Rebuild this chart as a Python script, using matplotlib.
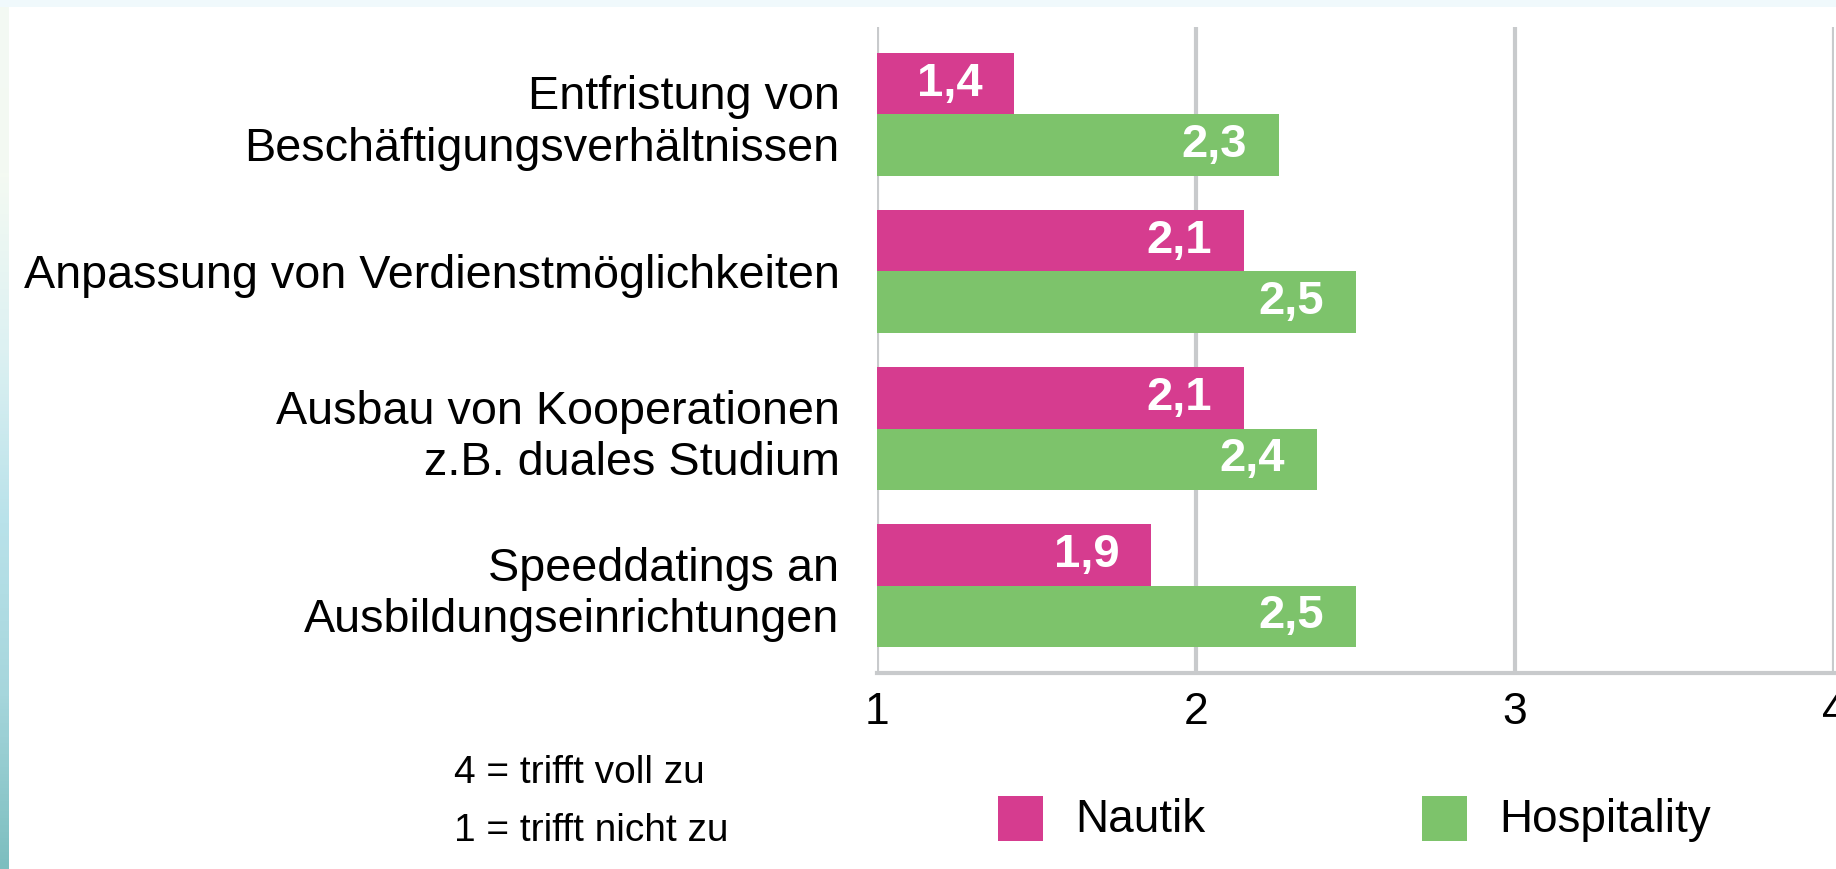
import numpy as np
import matplotlib
matplotlib.use('Agg')
import matplotlib.pyplot as plt
from matplotlib.patches import Rectangle
from matplotlib.colors import LinearSegmentedColormap

# data (bar lengths; labels shown rounded)
categories = ['Entfristung von\nBeschäftigungsverhältnissen',
              'Anpassung von Verdienstmöglichkeiten',
              'Ausbau von Kooperationen\nz.B. duales Studium',
              'Speeddatings an\nAusbildungseinrichtungen']
nautik = [1.43, 2.15, 2.15, 1.86]
hospitality = [2.26, 2.50, 2.38, 2.50]
series_names = ['Nautik', 'Hospitality']
x_ticks = [1, 2, 3, 4]

pink = '#D63C8F'
green = '#7DC36B'
grid_col = '#C8CACC'

plt.rcParams['font.family'] = ['Liberation Sans', 'DejaVu Sans']

fig = plt.figure(figsize=(18.36, 8.69), dpi=100)
fig.patch.set_facecolor('white')

# background decoration: light top strip and teal gradient on the left edge
bg = fig.add_axes([0, 0, 1, 1], zorder=-10)
bg.set_xlim(0, 1836)
bg.set_ylim(869, 0)
bg.axis('off')
bg.add_patch(Rectangle((0, 0), 1836, 7, color='#F0F9FC', lw=0))
cmap = LinearSegmentedColormap.from_list('edge', ['#F3F9F4', '#F4FAF2', '#DDF1F2', '#B9E2EA', '#A6D6DC', '#7CBEBF'])
grad = np.linspace(0, 1, 256).reshape(-1, 1)
bg.imshow(grad, cmap=cmap, extent=(0, 9, 869, 0), aspect='auto')

ax = fig.add_axes([877 / 1836, 1 - 673 / 869, (1834 - 877) / 1836, (673 - 27) / 869])
ypos = np.arange(len(categories))
h = 0.392

b1 = ax.barh(ypos - h / 2, [v - 1 for v in nautik], left=1, height=h, color=pink, zorder=3)
b2 = ax.barh(ypos + h / 2, [v - 1 for v in hospitality], left=1, height=h, color=green, zorder=3)

for bars, vals in ((b1, nautik), (b2, hospitality)):
    for bar, v in zip(bars, vals):
        ax.text(v - 0.1, bar.get_y() + bar.get_height() / 2, f'{v:.1f}'.replace('.', ','),
                ha='right', va='center', color='white', fontsize=34, fontweight='bold', zorder=4)

ax.set_xlim(1, 4)
ax.set_ylim(3.556, -0.556)
ax.set_xticks(x_ticks)
ax.set_xticklabels([str(t) for t in x_ticks], fontsize=32)
ax.set_yticks(ypos)
ax.set_yticklabels(categories, fontsize=33.7, linespacing=1.22)
ax.tick_params(axis='both', length=0)
ax.tick_params(axis='y', pad=27)
ax.tick_params(axis='x', pad=14)
ax.grid(axis='x', color=grid_col, lw=3, zorder=1)
for side in ['top', 'left', 'right']:
    ax.spines[side].set_visible(False)
ax.spines['bottom'].set_color(grid_col)
ax.spines['bottom'].set_linewidth(3)
ax.set_facecolor('none')
ax.xaxis.get_majorticklabels()[-1].set_clip_on(False)

# scale note
narrow = ['Liberation Sans Narrow', 'Liberation Sans', 'DejaVu Sans']
fig.text(454 / 1836, 1 - 773 / 869, '4 = trifft voll zu', fontsize=28, family=narrow, va='center')
fig.text(454 / 1836, 1 - 831 / 869, '1 = trifft nicht zu', fontsize=28, family=narrow, va='center')

# legend
for x0, col, name, tx in ((998, pink, series_names[0], 1075), (1422, green, series_names[1], 1499)):
    bg.add_patch(Rectangle((x0, 796), 45, 45, color=col, lw=0))
    bg.text(tx, 820, name, fontsize=33, va='center', ha='left')

fig.savefig('out.png', dpi=100)
